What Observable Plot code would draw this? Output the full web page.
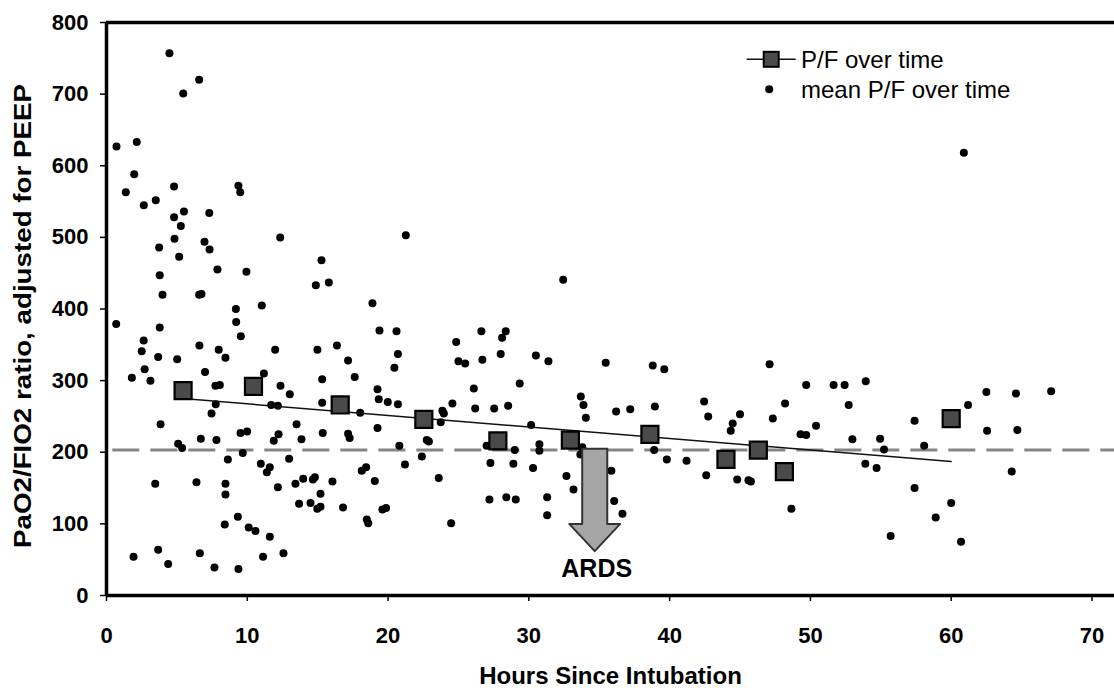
<!DOCTYPE html>
<html><head><meta charset="utf-8">
<script src="https://cdn.jsdelivr.net/npm/d3@7"></script>
<script src="https://cdn.jsdelivr.net/npm/@observablehq/plot@0.6"></script>
<style>
body{margin:0;background:#fff;}
#wrap{position:relative;width:1114px;height:688px;font-family:Arial,"Liberation Sans",sans-serif;}
#wrap svg{font-family:Arial,"Liberation Sans",sans-serif;}
</style></head><body><div id="wrap"></div>
<script>
// mean P/F over time: [hours since intubation, PaO2/FIO2 adjusted for PEEP]
const meanPoints = [
[4.47,757],[5.45,701],[6.58,720],[0.71,627],[2.15,633],[1.97,588],[1.37,563],[2.65,545],[3.5,552],[4.8,571],
[4.8,528],[5.5,536],[5.28,516],[7.3,534],[9.37,572],[9.5,563],[12.34,500],[4.83,498],[6.96,494],[3.74,486],
[7.32,483],[21.26,503],[60.9,618],
[0.69,379],[1.8,304],[2.5,341],[2.64,356],[2.71,316],[3.12,300],[3.78,447],[3.98,420],[3.78,374],[3.67,333],
[3.84,239],[5.16,473],[5.02,330],[5.09,212],[5.37,206],[7.88,455],[6.58,420],[6.75,421],[6.6,349],[7.0,312],
[7.46,254],[7.74,293],[8.05,294],[7.76,267],[7.97,343],[8.45,332],[6.7,219],[7.81,217],[9.19,400],[9.21,382],
[9.54,362],[9.94,452],[11.03,405],[11.18,310],[9.52,227],[9.99,229],[9.68,199],[11.7,266],[12.17,265],[11.98,343],
[12.36,293],[13.02,281],[11.88,216],[12.22,225],[13.5,239],[13.85,218],[14.87,433],[15.27,468],[15.79,437],[14.98,343],
[15.32,302],[15.32,269],[15.36,227],[16.37,349],[17.16,328],[17.63,305],[17.16,226],[17.27,220],[18.02,255],[18.89,408],
[19.39,370],[19.25,288],[19.34,274],[19.98,270],[19.25,234],[20.6,369],[20.45,318],[20.7,337],[20.7,267],[20.8,209],
[1.92,54],[3.46,156],[3.67,64],[4.38,44],[6.39,158],[6.63,59],[7.67,39],[8.45,156],[8.45,141],[8.62,190],
[8.4,99],[9.33,110],[9.37,37],[10.1,95],[10.58,90],[10.96,184],[11.6,179],[11.39,172],[11.6,82],[11.12,54],
[12.17,151],[12.57,59],[12.97,191],[13.42,156],[13.68,128],[13.97,163],[14.49,129],[14.66,162],[14.8,165],[14.97,121],
[15.2,124],[15.2,142],[16.05,159],[16.8,123],[18.13,174],[18.44,179],[18.49,106],[18.59,101],[19.06,160],[19.6,120],
[19.86,122],
[32.44,441],[24.84,354],[25.0,327],[25.48,324],[26.63,369],[26.7,329],[28.0,337],[28.1,360],[28.36,369],[26.09,289],
[26.19,261],[27.54,261],[28.53,265],[24.57,268],[23.86,258],[23.96,254],[23.74,242],[29.35,296],[30.5,335],[31.39,327],
[30.16,238],[33.69,278],[33.88,266],[34.05,248],[35.46,325],[36.2,257],[37.2,260],[38.8,321],[39.62,316],[38.95,264],
[42.45,271],[42.74,250],[45.0,253],[44.48,240],[44.34,230],[47.1,323],[47.33,247],[22.75,217],[22.9,215],[22.4,194],
[27.0,209],[29.0,203],[30.75,211],[30.75,202],[33.8,207],[33.66,197],[38.9,203],[39.8,190],[41.2,188],
[48.2,268],[49.7,294],[49.3,225],[49.7,224],[50.4,237],[51.65,294],[52.43,294],[53.93,299],[52.72,266],[52.98,218],
[54.95,219],[55.23,204],[57.4,244],[58.08,209],[61.2,266],[62.5,284],[62.55,230],[64.6,282],[64.7,231],[67.1,285],
[21.2,183],[23.6,164],[24.48,101],[27.27,185],[28.9,184],[30.3,178],[27.2,134],[28.4,137],[29.07,134],[31.3,137],
[31.3,112],[32.67,167],[33.17,148],[35.86,174],[36.06,132],[36.65,114],[42.6,168],[44.8,162],[45.6,161],[45.77,159],
[48.65,121],[53.9,184],[54.7,178],[57.4,150],[55.7,83],[58.9,109],[60.0,129],[60.7,75],[64.3,173]
];
// P/F over time (squares)
const pfHours  = [5.44, 10.44, 16.6, 22.54, 27.8, 32.95, 38.6, 44.0, 46.3, 48.15, 60.0];
const pfValues = [286, 292, 266, 246, 216, 217, 225, 190, 203, 173, 247];
// linear trend line
const trendHours  = [5.4, 60];
const trendValues = [275, 187];
// ARDS threshold and arrow annotation
const thresholdValue = 203;
const ardsHour = 34.68, ardsTop = 205, ardsShaftEnd = 100, ardsTip = 62;
const ardsShaftHalf = 0.89, ardsHeadHalf = 1.81;
const ardsLabel = "ARDS";
const xTicks = [0, 10, 20, 30, 40, 50, 60, 70];
const yTicks = [0, 100, 200, 300, 400, 500, 600, 700, 800];
const xLabel = "Hours Since Intubation";
const yLabel = "PaO2/FIO2 ratio, adjusted for PEEP";
const legendLabels = ["P/F over time", "mean P/F over time"];

const pfData = pfHours.map((h, i) => ({h, v: pfValues[i]}));
const trendData = trendHours.map((h, i) => ({h, v: trendValues[i]}));
const arrowPoly = [
  [ardsHour - ardsShaftHalf, ardsTop], [ardsHour + ardsShaftHalf, ardsTop],
  [ardsHour + ardsShaftHalf, ardsShaftEnd], [ardsHour + ardsHeadHalf, ardsShaftEnd],
  [ardsHour, ardsTip], [ardsHour - ardsHeadHalf, ardsShaftEnd],
  [ardsHour - ardsShaftHalf, ardsShaftEnd], [ardsHour - ardsShaftHalf, ardsTop]
];

const chart = Plot.plot({
  width: 1114, height: 688,
  marginLeft: 106, marginRight: 0, marginTop: 22, marginBottom: 93,
  style: {background: "#fff", color: "#000", fontFamily: 'Arial, "Liberation Sans", sans-serif', overflow: "visible"},
  x: {domain: [0, 71.6]},
  y: {domain: [0, 800]},
  marks: [
    Plot.ruleY([thresholdValue], {x1: 0.45, x2: 71.6, stroke: "#858585", strokeWidth: 3, strokeDasharray: "27,11"}),
    Plot.dot(meanPoints, {x: d => d[0], y: d => d[1], r: 4, fill: "#000", stroke: "none"}),
    Plot.line(trendData, {x: "h", y: "v", stroke: "#111", strokeWidth: 1.5}),
    Plot.dot(pfData, {x: "h", y: "v", symbol: "square", r: 9.6, fill: "#4a4a4a", stroke: "#000", strokeWidth: 2.2}),
    Plot.line(arrowPoly, {x: d => d[0], y: d => d[1], fill: "#a6a6a6", stroke: "#333", strokeWidth: 2}),
    Plot.text([ardsLabel], {x: () => ardsHour, y: () => ardsTip, text: d => d, dx: 2, dy: 8, lineAnchor: "top", fontSize: 25, fontWeight: "bold", fill: "#000"}),
    Plot.ruleX([0], {stroke: "#000", strokeWidth: 3.5}),
    Plot.ruleY([0], {stroke: "#000", strokeWidth: 3.5}),
    Plot.ruleY([800], {stroke: "#000", strokeWidth: 3.5}),
    Plot.axisX({ticks: xTicks, tickSize: 6, tickPadding: 26, fontSize: 22, fontWeight: "bold", strokeWidth: 1.5, label: null}),
    Plot.axisY({ticks: yTicks, tickSize: 6, tickPadding: 12, fontSize: 22, fontWeight: "bold", strokeWidth: 1.5, label: null}),
    Plot.text([xLabel], {frameAnchor: "bottom", text: d => d, dy: 81, lineAnchor: "middle", fontSize: 24, fontWeight: "bold", fill: "#000"}),
    Plot.text([yLabel], {frameAnchor: "left", text: d => d, dx: -83, dy: 7, rotate: -90, lineAnchor: "middle", fontSize: 24, fontWeight: "bold", fill: "#000", className: "ylab"})
  ]
});
document.getElementById("wrap").appendChild(chart);
d3.select(chart).selectAll('g[aria-label="x-axis tick label"] text, g[aria-label="y-axis tick label"] text').attr("font-weight", "bold");
// stretch y label to the reference length, keeping it centred
const yLabLen = 464;
d3.select(chart).selectAll("g.ylab text")
  .attr("text-anchor", "start").attr("x", -yLabLen / 2)
  .attr("textLength", yLabLen).attr("lengthAdjust", "spacingAndGlyphs");

// legend overlay
const leg = d3.select("#wrap").append("svg")
  .attr("width", 1114).attr("height", 688)
  .style("position", "absolute").style("left", "0px").style("top", "0px");
const legX = 746.7, legW = 49, legTextX = 801, legRowY = [59.3, 89.3];
const row1 = leg.append("g");
row1.append("line").attr("x1", legX).attr("x2", legX + legW).attr("y1", legRowY[0]).attr("y2", legRowY[0]).attr("stroke", "#111").attr("stroke-width", 1.5);
row1.append("rect").attr("x", legX + legW / 2 - 7.5).attr("y", legRowY[0] - 7.5).attr("width", 15).attr("height", 15).attr("fill", "#4a4a4a").attr("stroke", "#000").attr("stroke-width", 2);
const row2 = leg.append("g");
row2.append("circle").attr("cx", legX + 22.5).attr("cy", legRowY[1]).attr("r", 4).attr("fill", "#000");
leg.selectAll("text.lt").data(legendLabels).join("text").attr("class", "lt")
  .attr("x", legTextX).attr("y", (d, i) => legRowY[i]).attr("dy", "0.36em")
  .attr("font-size", 24).attr("font-family", 'Arial, "Liberation Sans", sans-serif').attr("fill", "#000").text(d => d);
</script></body></html>
